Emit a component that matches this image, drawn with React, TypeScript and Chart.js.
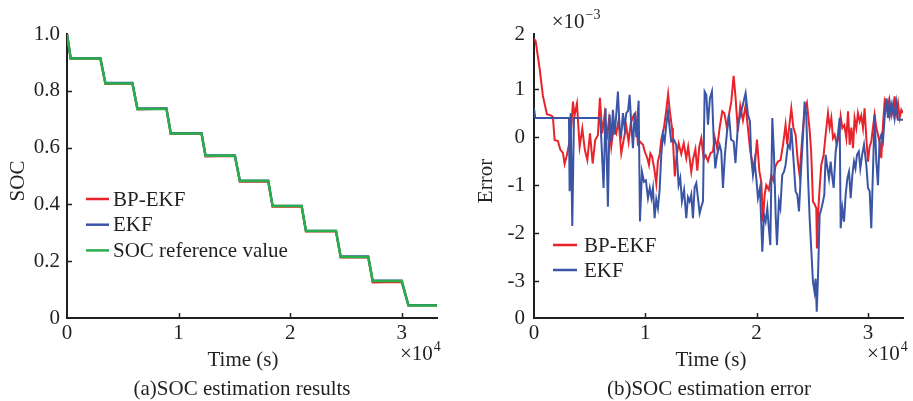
import React, { useEffect, useRef } from 'react';
import { Chart, registerables } from 'chart.js';

Chart.register(...registerables);

const FONT = '"Liberation Serif", "Times New Roman", serif';
const INK = '#231F20';
const RED = '#E8232A';
const BLUE = '#3A55A6';
const GREEN = '#29AF4A';

// ---------- (a) SOC estimation results ----------
const timeTicks = [0, 10000, 20000, 30000];
const timeMax = 33150;
const socYTicks = [0, 0.2, 0.4, 0.6, 0.8, 1.0];

const socTime = [0, 330, 2990, 3440, 5860, 6310, 8910, 9300, 12050, 12410, 15040, 15490, 18030, 18420, 21020, 21410, 24100, 24520, 26990, 27390, 29990, 30590, 33150];
const socReference = [1.0, 0.914, 0.914, 0.826, 0.826, 0.736, 0.736, 0.65, 0.65, 0.571, 0.571, 0.482, 0.482, 0.394, 0.394, 0.306, 0.306, 0.215, 0.215, 0.13, 0.13, 0.044, 0.044];
const socBpEkf = [1.0, 0.913, 0.914, 0.824, 0.826, 0.735, 0.737, 0.648, 0.65, 0.569, 0.571, 0.48, 0.481, 0.392, 0.393, 0.305, 0.306, 0.213, 0.214, 0.125, 0.127, 0.044, 0.045];
const socEkf = [1.0, 0.915, 0.915, 0.828, 0.828, 0.738, 0.738, 0.651, 0.651, 0.573, 0.573, 0.484, 0.484, 0.395, 0.395, 0.307, 0.307, 0.217, 0.217, 0.132, 0.132, 0.045, 0.045];

// ---------- (b) SOC estimation error (values in units of 1e-3) ----------
const errYMin = -3.77;
const errYMax = 2.15;
const errYTicks = [-3.77, -3, -2, -1, 0, 1, 2.15];
const errYLabels = ['0', '-3', '-2', '-1', '0', '1', '2'];

const errBpTime = [
  0, 150, 500, 800, 1160, 1550, 1700, 1850, 2150, 2360,
  2600, 2750, 2960, 3140, 3350, 3500, 3640, 3860, 4100, 4340,
  4570, 4790, 5030, 5270, 5500, 5740, 5920, 6130, 6340, 6520,
  6730, 6940, 7160, 7390, 7600, 7840, 8060, 8290, 8500, 8700,
  8950, 9100, 9340, 9550, 9790, 9950, 10180, 10330, 10450, 10600,
  10800, 10985, 11135, 11300, 11430, 11675, 11880, 12050, 12200, 12400,
  12480, 12650, 12800, 13000, 13230, 13450, 13680, 13850, 14130, 14300,
  14500, 14670, 14850, 15030, 15250, 15420, 15630, 15840, 16075, 16230,
  16450, 16680, 16915, 17100, 17335, 17500, 17725, 17935, 18100, 18320,
  18530, 18770, 19010, 19220, 19430, 19600, 19820, 20030, 20250, 20420,
  20570, 20720, 20870, 21100, 21320, 21500, 21700, 21920, 22150, 22370,
  22600, 22750, 22950, 23115, 23300, 23500, 23700, 23860, 24100, 24310,
  24520, 24760, 24900, 25060, 25210, 25360, 25420, 25520, 25660, 25810,
  26020, 26200, 26410, 26560, 26710, 26860, 27010, 27200, 27400, 27550,
  27700, 27880, 28060, 28210, 28360, 28510, 28660, 28800, 28955, 29100,
  29255, 29400, 29555, 29700, 29855, 30005, 30150, 30303, 30450, 30600,
  30750, 30900, 31050, 31200, 31350, 31500, 31650, 31800, 31950, 32100,
  32250, 32400, 32550, 32700, 32850, 33000, 33150,
];
const errBp = [
  2.05, 2.0, 1.44, 0.86, 0.48, 0.45, 0.42, -0.06, -0.08, -0.26,
  -0.33, -0.56, -0.37, -0.16, 0.2, 0.74, 0.45, 0.7, -0.2, 0.18,
  -0.27, -0.48, 0.08, -0.55, -0.06, 0.04, 0.82, 0.08, 0.46, -0.06,
  0.35, -0.2, 0.22, 0.08, 0.35, -0.34, -0.05, 0.22, -0.1, 0.3,
  0.45, 0.5, -0.15, -0.1, -0.16, -0.3, -0.44, -0.58, -0.34, -0.4,
  -0.65, -0.97, -0.5, -0.35, -0.06, 0.2, 0.56, 0.9, 0.55, 0.19,
  -0.06, -0.82, -0.41, -0.13, -0.35, -0.13, -0.44, -0.2, -0.72, -0.45,
  -0.25, -0.7, -0.2, -0.02, -0.45, -0.38, -0.5, -0.34, -0.3, 0.0,
  -0.23, 0.2, 0.54, 0.5, 0.19, 0.45, 0.74, 1.28, 0.85, 0.12,
  0.65, 0.35, 0.66, 0.19, -0.3, -0.5, -0.65, -0.05, -0.72, -0.93,
  -1.76, -1.2, -1.0, -1.1, -0.79, -0.9, -0.6, -0.51, -0.48, -0.16,
  0.26, -0.15, 0.26, 0.6, 0.2, 0.05, -0.51, -0.79, 0.0, 0.54,
  0.71, 0.15, -0.3, -1.34, -1.4, -1.48, -2.32, -1.6, -1.06, -0.58,
  -0.37, 0.05, 0.5, 0.2, 0.4, -0.02, 0.05, -0.16, 0.05, 0.43,
  0.19, 0.25, -0.02, 0.54, -0.16, 0.2, -0.23, 0.4, 0.19, 0.5,
  0.33, 0.45, 0.19, 0.6, -0.02, -0.51, -0.2, -0.09, 0.2, 0.47,
  0.2, 0.05, -0.1, -0.44, 0.26, 0.74, 0.6, 0.74, 0.45, 0.68,
  0.5, 0.85, 0.5, 0.71, 0.4, 0.57, 0.5,
];

const errEkfTime = [
  0, 120, 3140, 3200, 3290, 3440, 3590, 5890, 6000, 6250,
  6430, 6640, 6790, 6940, 7090, 7240, 7390, 7540, 7690, 7840,
  7990, 8140, 8290, 8450, 8590, 8740, 8890, 9040, 9200, 9400,
  9520, 9700, 9880, 10050, 10240, 10400, 10550, 10685, 10835, 10985,
  11135, 11285, 11435, 11585, 11735, 11885, 12035, 12185, 12330, 12550,
  12780, 12990, 13140, 13290, 13480, 13680, 13830, 13980, 14130, 14280,
  14430, 14580, 14730, 14880, 15030, 15180, 15330, 15480, 15630, 15800,
  15985, 16150, 16285, 16450, 16676, 16825, 16975, 17150, 17335, 17515,
  17700, 17935, 18100, 18320, 18550, 18770, 19010, 19220, 19400, 19520,
  19670, 19820, 19970, 20120, 20300, 20510, 20660, 20810, 20960, 21100,
  21230, 21410, 21560, 21710, 21830, 22000, 22130, 22300, 22460, 22600,
  22815, 22980, 23115, 23325, 23500, 23650, 23805, 24000, 24160, 24310,
  24460, 24610, 24763, 24900, 25060, 25200, 25300, 25400, 25510, 25660,
  25810, 25960, 26080, 26200, 26320, 26500, 26650, 26770, 26920, 27100,
  27300, 27460, 27550, 27700, 27850, 28000, 28150, 28300, 28450, 28600,
  28745, 28880, 29015, 29180, 29315, 29480, 29645, 29855, 30005, 30155,
  30300, 30450, 30600, 30750, 30900, 31050, 31200, 31350, 31500, 31650,
  31800, 31950, 32100, 32250, 32400, 32550, 32700, 33150,
];
const errEkf = [
  0.6, 0.4, 0.4, -1.13, 0.5, -1.85, 0.4, 0.4, 0.19, -1.06,
  0.6, -1.45, 0.47, -0.09, 0.57, 0.05, 0.47, 0.95, 0.19, 0.05,
  0.5, 0.19, 0.5, 0.55, 0.88, 0.26, -0.23, 0.5, 0.0, 0.76,
  -1.76, -0.72, -0.93, -0.9, -1.27, -1.06, -1.27, -1.06, -1.69, -1.3,
  -1.48, -1.1, -0.37, 0.05, -0.09, 0.26, 0.54, 0.2, -0.09, -0.05,
  -0.16, -1.0, -0.85, -1.34, -1.1, -1.69, -1.25, -1.34, -1.2, -1.69,
  -1.05, -0.96, -1.27, -1.59, -1.45, -1.34, 0.95, 0.88, 0.26, 0.8,
  0.95, -0.09, -0.65, -0.37, -0.16, -0.3, -1.06, -0.37, 0.1, 0.47,
  -0.05, -0.09, -0.54, 0.26, 0.47, 0.68, 0.92, 0.47, 0.33, -0.44,
  -0.79, -0.51, -0.86, -1.27, -1.06, -2.39, -1.62, -1.76, -1.48, -1.9,
  -2.25, 0.4, -0.37, -1.62, -2.25, -1.34, -1.48, -0.79, -0.72, -0.58,
  -0.16, -0.23, 0.19, -0.51, -1.13, -1.2, -1.55, -0.65, 0.0, 0.74,
  0.47, -0.79, -1.69, -2.3, -3.01, -3.22, -2.95, -3.64, -2.94, -1.62,
  -1.5, -1.34, -1.2, -0.37, -0.58, -0.86, -0.51, -0.79, -1.06, -0.3,
  0.05, 0.4, -1.9, -1.48, -1.76, -1.2, -0.86, -0.72, -1.27, -0.79,
  -0.51, -0.65, -0.37, -0.3, -0.65, -0.37, -0.16, -0.58, -1.06, -1.13,
  -1.9, -0.72, 0.47, -0.5, -1.0, -0.05, 0.05, -0.09, 0.4, 0.81,
  0.4, 0.74, 0.47, 0.68, 0.4, 0.71, 0.36, 0.36,
];

const toPoints = (xs: number[], ys: number[]) => xs.map((x, i) => ({ x, y: ys[i] }));

type TextItem = { text: string; sup?: string; x: number; y: number; align?: CanvasTextAlign; rotate?: boolean };
type DecorOpts = {
  legend: { x: number; y: number; gap: number; len: number; textGap: number };
  texts: TextItem[];
};

const decorPlugin = {
  id: 'decor',
  afterDraw(chart: any, _args: any, opts: DecorOpts) {
    const ctx: CanvasRenderingContext2D = chart.ctx;
    const { bottom, left } = chart.chartArea;
    const xs = chart.scales.x;
    const ys = chart.scales.y;
    ctx.save();
    // inward tick marks
    ctx.strokeStyle = INK;
    ctx.lineWidth = 1.5;
    xs.ticks.forEach((t: any) => {
      if (t.value > xs.min && t.value < xs.max) {
        const px = Math.round(xs.getPixelForValue(t.value)) + 0.5;
        ctx.beginPath();
        ctx.moveTo(px, bottom);
        ctx.lineTo(px, bottom - 5);
        ctx.stroke();
      }
    });
    ys.ticks.forEach((t: any) => {
      if (t.value > ys.min && t.value < ys.max) {
        const py = Math.round(ys.getPixelForValue(t.value)) + 0.5;
        ctx.beginPath();
        ctx.moveTo(left, py);
        ctx.lineTo(left + 5, py);
        ctx.stroke();
      }
    });
    // legend
    const lg = opts.legend;
    ctx.font = `21px ${FONT}`;
    ctx.textBaseline = 'middle';
    ctx.textAlign = 'left';
    chart.data.datasets.forEach((ds: any, i: number) => {
      const y = lg.y + i * lg.gap;
      ctx.strokeStyle = ds.borderColor;
      ctx.lineWidth = 2.5;
      ctx.beginPath();
      ctx.moveTo(lg.x, y);
      ctx.lineTo(lg.x + lg.len, y);
      ctx.stroke();
      ctx.fillStyle = INK;
      ctx.fillText(ds.label, lg.x + lg.len + lg.textGap, y + 1);
    });
    // texts
    opts.texts.forEach((t) => {
      ctx.fillStyle = INK;
      ctx.font = `21px ${FONT}`;
      if (t.rotate) {
        ctx.save();
        ctx.translate(t.x, t.y);
        ctx.rotate(-Math.PI / 2);
        ctx.textAlign = 'center';
        ctx.textBaseline = 'middle';
        ctx.fillText(t.text, 0, 0);
        ctx.restore();
        return;
      }
      ctx.textBaseline = 'alphabetic';
      ctx.textAlign = t.align || 'left';
      ctx.fillText(t.text, t.x, t.y);
      if (t.sup) {
        const w = ctx.measureText(t.text).width;
        ctx.font = `14px ${FONT}`;
        ctx.textAlign = 'left';
        ctx.fillText(t.sup, t.x + w + 1, t.y - 9);
      }
    });
    ctx.restore();
  },
};

const axisFont = { family: FONT, size: 21 };

function makeXScale() {
  return {
    type: 'linear',
    min: 0,
    max: timeMax,
    grid: { display: false, drawTicks: false },
    border: { display: true, color: INK, width: 2 },
    ticks: { color: INK, font: axisFont, padding: 3, maxRotation: 0, callback: (v: number) => String(v / 10000) },
    afterBuildTicks: (s: any) => {
      s.ticks = timeTicks.map((v) => ({ value: v }));
    },
    afterFit: (s: any) => {
      s.height = 83;
      s.paddingLeft = 0;
      s.paddingRight = 0;
    },
  };
}

function SocChart() {
  const ref = useRef<HTMLCanvasElement>(null);
  useEffect(() => {
    const chart = new Chart(ref.current as HTMLCanvasElement, {
      type: 'line',
      data: {
        datasets: [
          { label: 'BP-EKF', data: toPoints(socTime, socBpEkf), borderColor: RED, borderWidth: 2.2, pointRadius: 0, order: 2 },
          { label: 'EKF', data: toPoints(socTime, socEkf), borderColor: BLUE, borderWidth: 2.2, pointRadius: 0, order: 1 },
          { label: 'SOC reference value', data: toPoints(socTime, socReference), borderColor: GREEN, borderWidth: 2.5, pointRadius: 0, order: 0 },
        ],
      },
      options: {
        animation: false,
        responsive: false,
        devicePixelRatio: 1,
        layout: { padding: { left: 0, top: 34, right: 19, bottom: 0 }, autoPadding: false },
        plugins: {
          legend: { display: false },
          tooltip: { enabled: false },
          decor: {
            legend: { x: 86, y: 199, gap: 25.7, len: 23, textGap: 4 },
            texts: [
              { text: 'SOC', x: 18.5, y: 181, rotate: true },
              { text: 'Time (s)', x: 243, y: 366, align: 'center' },
              { text: '×10', sup: '4', x: 400, y: 360 },
              { text: '(a)SOC estimation results', x: 242, y: 395, align: 'center' },
            ],
          },
        } as any,
        scales: {
          x: makeXScale() as any,
          y: {
            type: 'linear',
            min: 0,
            max: 1,
            grid: { display: false, drawTicks: false },
            border: { display: true, color: INK, width: 2 },
            ticks: { color: INK, font: axisFont, padding: 7, callback: (v: any) => (v === 0 ? '0' : Number(v).toFixed(1)) },
            afterBuildTicks: (s: any) => {
              s.ticks = socYTicks.map((v) => ({ value: v }));
            },
            afterFit: (s: any) => {
              s.width = 67;
              s.paddingTop = 0;
              s.paddingBottom = 0;
            },
          },
        },
      },
      plugins: [decorPlugin as any],
    });
    return () => chart.destroy();
  }, []);
  return <canvas ref={ref} width={456} height={401} style={{ position: 'absolute', left: 0, top: 0, width: 456, height: 401 }} />;
}

function ErrorChart() {
  const ref = useRef<HTMLCanvasElement>(null);
  useEffect(() => {
    const chart = new Chart(ref.current as HTMLCanvasElement, {
      type: 'line',
      data: {
        datasets: [
          { label: 'BP-EKF', data: toPoints(errBpTime, errBp), borderColor: RED, borderWidth: 2, pointRadius: 0, order: 1 },
          { label: 'EKF', data: toPoints(errEkfTime, errEkf), borderColor: BLUE, borderWidth: 2, pointRadius: 0, order: 0 },
        ],
      },
      options: {
        animation: false,
        responsive: false,
        devicePixelRatio: 1,
        layout: { padding: { left: 0, top: 34, right: 10, bottom: 0 }, autoPadding: false },
        plugins: {
          legend: { display: false },
          tooltip: { enabled: false },
          decor: {
            legend: { x: 97, y: 245, gap: 25, len: 24, textGap: 7 },
            texts: [
              { text: 'Error', x: 30.7, y: 181, rotate: true },
              { text: '×10', sup: '−3', x: 95.7, y: 28 },
              { text: 'Time (s)', x: 255, y: 366, align: 'center' },
              { text: '×10', sup: '4', x: 411, y: 360 },
              { text: '(b)SOC estimation error', x: 253, y: 395, align: 'center' },
            ],
          },
        } as any,
        scales: {
          x: makeXScale() as any,
          y: {
            type: 'linear',
            min: errYMin,
            max: errYMax,
            grid: { display: false, drawTicks: false },
            border: { display: true, color: INK, width: 2 },
            ticks: { color: INK, font: axisFont, padding: 9, callback: (_v: any, i: number) => errYLabels[i] },
            afterBuildTicks: (s: any) => {
              s.ticks = errYTicks.map((v) => ({ value: v }));
            },
            afterFit: (s: any) => {
              s.width = 78;
              s.paddingTop = 0;
              s.paddingBottom = 0;
            },
          },
        },
      },
      plugins: [decorPlugin as any],
    });
    return () => chart.destroy();
  }, []);
  return <canvas ref={ref} width={457} height={401} style={{ position: 'absolute', left: 456, top: 0, width: 457, height: 401 }} />;
}

export default function App() {
  return (
    <div style={{ position: 'absolute', left: 0, top: 0, width: 913, height: 401, background: '#fff', overflow: 'hidden' }}>
      <SocChart />
      <ErrorChart />
    </div>
  );
}
